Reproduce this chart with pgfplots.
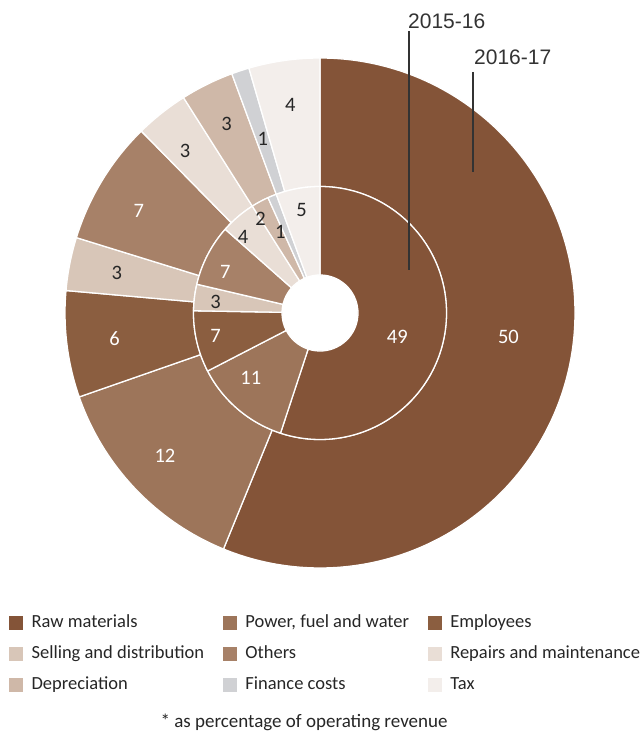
\documentclass[border=0pt]{standalone}
\usepackage{pgfplots}
\usepackage{pgfplotstable}
\pgfplotsset{compat=1.18}
\usepackage{fontspec}
\setmainfont{Carlito}
\newfontfamily\yearfont{Liberation Sans}

\definecolor{rawc}{HTML}{845438}
\definecolor{powc}{HTML}{9D755A}
\definecolor{empc}{HTML}{8B5E40}
\definecolor{selc}{HTML}{D8C6B8}
\definecolor{othc}{HTML}{A78168}
\definecolor{repc}{HTML}{E9DED6}
\definecolor{depc}{HTML}{CFB8A8}
\definecolor{finc}{HTML}{D0D1D4}
\definecolor{taxc}{HTML}{F3EEEB}
\definecolor{txtd}{HTML}{262626}
\definecolor{yeartxt}{HTML}{333333}

% 2016-17 (outer ring); lr = label radius, ls = label angle shift (deg, clockwise)
\pgfplotstableread{
cat value fillc txtc lr ls
Raw 50 rawc white 190 -3.9
Power 12 powc white 211 0.8
Employees 6 empc white 207 0
Selling 3 selc txtd 207 0
Others 7 othc white 208 -2
Repairs 3 repc txtd 211 -1.3
Depreciation 3 depc txtd 211 0
Finance 1 finc txtd 183 0
Tax 4 taxc txtd 210 0
}\outerring

% 2015-16 (inner ring)
\pgfplotstableread{
cat value fillc txtc lr ls
Raw 49 rawc white 81 8.2
Power 11 powc white 95 6.3
Employees 7 empc white 107 0.7
Selling 3 selc txtd 105 -1
Others 7 othc white 103 -4
Repairs 4 repc txtd 108 -5
Depreciation 2 depc txtd 111 -4
Finance 1 finc txtd 90 -4
Tax 5 taxc txtd 105 0
}\innerring

\newcommand\numfont{\fontsize{20.5}{24}\selectfont}

% #1 table, #2 inner radius, #3 outer radius
\newcommand\drawring[3]{%
  \pgfplotstablegetrowsof{#1}%
  \pgfmathtruncatemacro\ringLast{\pgfplotsretval-1}%
  \def\ringTot{0}%
  \pgfplotsforeachungrouped \i in {0,...,\ringLast}{%
    \pgfplotstablegetelem{\i}{value}\of#1%
    \pgfmathsetmacro\ringTot{\ringTot+\pgfplotsretval}%
  }%
  \def\ringCum{0}%
  \pgfplotsforeachungrouped \i in {0,...,\ringLast}{%
    \pgfplotstablegetelem{\i}{value}\of#1\let\ringVal\pgfplotsretval
    \pgfplotstablegetelem{\i}{fillc}\of#1\let\ringFc\pgfplotsretval
    \pgfmathsetmacro\ringSA{90-\ringCum/\ringTot*360}%
    \pgfmathsetmacro\ringEA{90-(\ringCum+\ringVal)/\ringTot*360}%
    \pgfmathsetmacro\ringCum{\ringCum+\ringVal}%
    \edef\ringCmd{\noexpand\fill[fill=\ringFc,draw=white,line width=1.3pt,line join=round]
      ([shift={(axis cs:0,0)}]\ringSA:#3pt) arc[start angle=\ringSA,end angle=\ringEA,radius=#3pt]
      -- ([shift={(axis cs:0,0)}]\ringEA:#2pt) arc[start angle=\ringEA,end angle=\ringSA,radius=#2pt] -- cycle;}%
    \ringCmd
  }%
}

% #1 table
\newcommand\labelring[1]{%
  \pgfplotstablegetrowsof{#1}%
  \pgfmathtruncatemacro\ringLast{\pgfplotsretval-1}%
  \def\ringTot{0}%
  \pgfplotsforeachungrouped \i in {0,...,\ringLast}{%
    \pgfplotstablegetelem{\i}{value}\of#1%
    \pgfmathsetmacro\ringTot{\ringTot+\pgfplotsretval}%
  }%
  \def\ringCum{0}%
  \pgfplotsforeachungrouped \i in {0,...,\ringLast}{%
    \pgfplotstablegetelem{\i}{value}\of#1\let\ringVal\pgfplotsretval
    \pgfplotstablegetelem{\i}{txtc}\of#1\let\ringTc\pgfplotsretval
    \pgfplotstablegetelem{\i}{lr}\of#1\let\ringLr\pgfplotsretval
    \pgfplotstablegetelem{\i}{ls}\of#1\let\ringLs\pgfplotsretval
    \pgfmathsetmacro\ringLA{90-(\ringCum+\ringVal/2)/\ringTot*360-\ringLs}%
    \pgfmathsetmacro\ringCum{\ringCum+\ringVal}%
    \pgfmathtruncatemacro\ringShow{\ringVal}%
    \edef\ringCmd{\noexpand\node[text=\ringTc,font=\noexpand\numfont,inner sep=0pt]
      at ([shift={(axis cs:0,0)}]\ringLA:\ringLr pt) {\ringShow};}%
    \ringCmd
  }%
}

\begin{document}
\begin{tikzpicture}
\begin{axis}[
  x=1pt, y=1pt,
  xmin=-320, xmax=324, ymin=-419, ymax=313,
  enlargelimits=false,
  hide axis, clip=false,
  legend columns=3,
  legend cell align=left,
  legend style={at={(axis cs:-311,-301)}, anchor=north west, draw=none, fill=none,
    inner sep=0pt, font=\fontsize{18.5}{22}\selectfont, row sep=14pt,
    nodes={inner xsep=0pt, inner ysep=0pt, text height=13pt, text depth=4pt, text=txtd},
    /tikz/every odd column/.append style={column sep=9pt},
    /tikz/every even column/.append style={column sep=18.8pt}},
]
\path (axis cs:-320,-419) rectangle (axis cs:324,313);

\drawring{\outerring}{126.5}{255}
\drawring{\innerring}{38}{126.5}
\labelring{\outerring}
\labelring{\innerring}

\addlegendimage{legend image code/.code={\fill[rawc] (0pt,-6.5pt) rectangle (13pt,6.5pt);}}
\addlegendentry{Raw materials}
\addlegendimage{legend image code/.code={\fill[powc] (0pt,-6.5pt) rectangle (13pt,6.5pt);}}
\addlegendentry{Power, fuel and water}
\addlegendimage{legend image code/.code={\fill[empc] (0pt,-6.5pt) rectangle (13pt,6.5pt);}}
\addlegendentry{Employees}
\addlegendimage{legend image code/.code={\fill[selc] (0pt,-6.5pt) rectangle (13pt,6.5pt);}}
\addlegendentry{Selling and distribution}
\addlegendimage{legend image code/.code={\fill[othc] (0pt,-6.5pt) rectangle (13pt,6.5pt);}}
\addlegendentry{Others}
\addlegendimage{legend image code/.code={\fill[repc] (0pt,-6.5pt) rectangle (13pt,6.5pt);}}
\addlegendentry{Repairs and maintenance}
\addlegendimage{legend image code/.code={\fill[depc] (0pt,-6.5pt) rectangle (13pt,6.5pt);}}
\addlegendentry{Depreciation}
\addlegendimage{legend image code/.code={\fill[finc] (0pt,-6.5pt) rectangle (13pt,6.5pt);}}
\addlegendentry{Finance costs}
\addlegendimage{legend image code/.code={\fill[taxc] (0pt,-6.5pt) rectangle (13pt,6.5pt);}}
\addlegendentry{Tax}

% year annotations
\node[anchor=west, inner sep=0pt, text=yeartxt, font=\yearfont\fontsize{21}{25}\selectfont]
  at (axis cs:88,291.5) {2015-16};
\draw[yeartxt, line width=1.3pt] (axis cs:89,282) -- (axis cs:89,43);
\node[anchor=west, inner sep=0pt, text=yeartxt, font=\yearfont\fontsize{21}{25}\selectfont]
  at (axis cs:154,256) {2016-17};
\draw[yeartxt, line width=1.3pt] (axis cs:153,241) -- (axis cs:153,141);

% footnote
\node[text=txtd, font=\fontsize{19}{22}\selectfont, inner sep=0pt]
  at (axis cs:-16,-409) {* as percentage of operating revenue};
\end{axis}
\end{tikzpicture}
\end{document}
